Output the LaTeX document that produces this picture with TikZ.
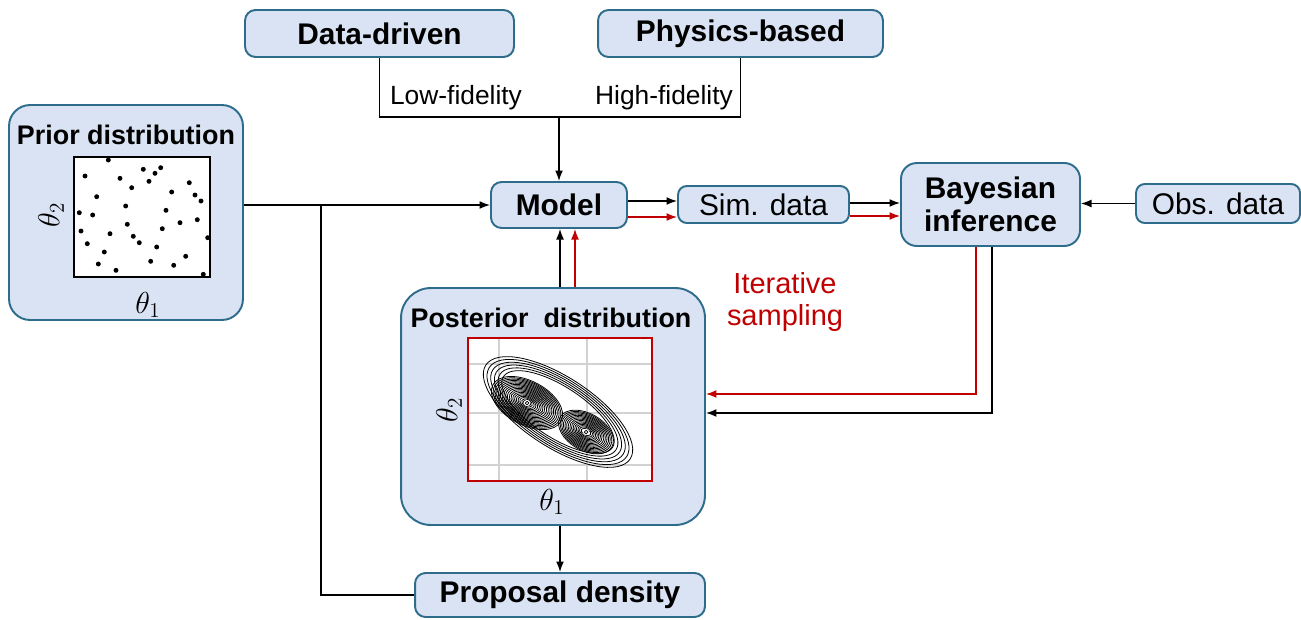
\documentclass[tikz,border=0pt]{standalone}
\usepackage{fontspec}
\setmainfont{Liberation Sans}
\usetikzlibrary{arrows.meta,calc}
\definecolor{boxc}{RGB}{218,227,243}
\definecolor{bordc}{RGB}{46,108,140}
\definecolor{redc}{RGB}{192,0,0}
\newcommand\bfsz{\fontsize{17}{20}\selectfont\bfseries}
\newcommand\rgsz{\fontsize{17}{20}\selectfont}
\newcommand\ttlsz{\fontsize{15.3}{18}\selectfont\bfseries}
\newcommand\lblsz{\fontsize{15}{18}\selectfont}
\newcommand\thsz{\fontsize{17}{20}\selectfont}
\begin{document}
\begin{tikzpicture}[x=0.02cm,y=-0.02cm,
  box/.style={draw=bordc,fill=boxc,line width=1.1pt,inner sep=0pt},
  ln/.style={line width=0.8pt,black},
  arr/.style={ln,-{Latex[length=6pt,width=4.5pt]}},
  rarr/.style={arr,draw=redc},
  cont/.style={line width=0.45pt,black}]
\useasboundingbox (0,0) rectangle (1301,619);

% top boxes
\node[box,rounded corners=6pt,minimum width=5.38cm,minimum height=0.94cm,font=\bfsz] (dd) at (379.5,33.5) {Data-driven};
\node[box,rounded corners=6pt,minimum width=5.7cm,minimum height=0.94cm,font=\bfsz] (pb) at (740.5,33.5) {Physics-based};
% row boxes
\node[box,rounded corners=6pt,minimum width=2.72cm,minimum height=0.92cm,font=\bfsz] (model) at (559,205) {Model};
\node[box,rounded corners=5pt,minimum width=3.42cm,minimum height=0.74cm,font=\rgsz] (sim) at (763.5,204.5) {Sim. data};
\node[box,rounded corners=9pt,minimum width=3.58cm,minimum height=1.66cm,font=\bfsz,align=center] (bayes) at (990.5,204.5) {Bayesian\\[-1pt]inference};
\node[box,rounded corners=5pt,minimum width=3.28cm,minimum height=0.78cm,font=\rgsz] (obs) at (1218,203.5) {Obs. data};
\node[box,rounded corners=6pt,minimum width=5.8cm,minimum height=0.88cm,font=\bfsz] (prop) at (560,595) {Proposal density};

% prior box
\node[box,rounded corners=12pt,minimum width=4.68cm,minimum height=4.3cm] (prior) at (126,212.5) {};
\node[font=\ttlsz] (priortitle) at (126,135) {Prior distribution};
\node[draw,fill=white,line width=0.9pt,minimum width=2.72cm,minimum height=2.4cm,inner sep=0pt] (priorplot) at (142,217) {};
\node[rotate=90,font=\thsz] (pth2) at (51,215) {$\theta_2$};
\node[font=\thsz] (pth1) at (148,305) {$\theta_1$};
\foreach \px/\py in {108.3/160,85/176,143.3/169.3,155/173.3,160.7/167.7,120/178.3,149/181.3,131.7/187.7,189.3/182.7,96.7/196.7,171.7/192,195/195,201/201,125.7/206,166/210.3,79.3/212.7,92.7/215,197.3/219.7,127.3/224.3,180/222.7,81/231,162.3/228.7,110/233.7,133.3/236.3,139.3/242.7,207.7/237.7,87.3/243.7,156.7/247,104.3/252,185.7/256.3,150.7/261.3,98.3/264,173.7/265.3,116/270.3,203.3/274.3}
  \fill (\px,\py) circle[radius=1.4pt];

% posterior box
\node[box,rounded corners=17pt,minimum width=6.08cm,minimum height=4.74cm] (post) at (553,406.5) {};
\node[font=\ttlsz] (posttitle) at (551,318) {Posterior~ distribution};
\fill[white] (468,338) rectangle (652,481);
\begin{scope}
  \clip (468,338) rectangle (652,481);
  \draw[gray!35,line width=0.9pt] (499,338) -- (499,481) (587,338) -- (587,481)
     (468,364) -- (652,364) (468,413) -- (652,413) (468,465) -- (652,465);
  \foreach \k [evaluate=\k as \a using 49-\k*2.4, evaluate=\k as \b using 20-\k*1.1] in {0,...,5}
    \draw[cont,rotate around={-33:(558,412)}] (558,412) ellipse[x radius=\a pt,y radius=\b pt];
  \foreach \k [evaluate=\k as \a using 22-\k*1.1, evaluate=\k as \b using 12.5-\k*0.62] in {0,...,18}
    \draw[cont,rotate around={-28:(527,403)}] (527,403) ellipse[x radius=\a pt,y radius=\b pt];
  \foreach \k [evaluate=\k as \a using 17-\k*1.0, evaluate=\k as \b using 10.5-\k*0.62] in {0,...,14}
    \draw[cont,rotate around={-30:(586,432)}] (586,432) ellipse[x radius=\a pt,y radius=\b pt];
  \fill[white] (527,403) circle[radius=1.8pt];
  \draw[line width=0.4pt] (527,403) circle[radius=1pt];
  \fill[white] (586,432) circle[radius=1.8pt];
  \draw[line width=0.4pt] (586,432) circle[radius=1pt];
\end{scope}
\node[draw=redc,line width=1.1pt,minimum width=3.68cm,minimum height=2.86cm,inner sep=0pt] (postplot) at (560,409.5) {};
\node[rotate=90,font=\thsz] (qth2) at (449,410) {$\theta_2$};
\node[font=\thsz] (qth1) at (552,502) {$\theta_1$};

% iterative sampling
\node[text=redc,font=\fontsize{16.5}{18.5}\selectfont,align=center] (iter) at (785,302) {Iterative\\sampling};

% helper coordinates
\coordinate (jn) at (559,117);
\coordinate (ylf) at (0,117);
\coordinate (br) at (321,205);
\coordinate (yb1) at (0,201);
\coordinate (yr1) at (0,217);
\coordinate (yb2) at (0,203);
\coordinate (yr2) at (0,216);
\coordinate (xb) at (560,0);
\coordinate (xr) at (575,0);
\coordinate (xbr) at (976,0);
\coordinate (xbb) at (992,0);
\coordinate (yr3) at (0,394);
\coordinate (yb3) at (0,413);

% fidelity join
\draw[ln] (dd.south) -- (dd.south |- ylf) -- (pb.south |- ylf) -- (pb.south);
\node[font=\lblsz] (lf) at (456,98) {Low-fidelity};
\node[font=\lblsz] (hf) at (664,98) {High-fidelity};
\draw[arr] (jn) -- (model.north);

% prior -> model, proposal branch
\draw[arr] (prior.east |- model.west) -- (model.west);
\draw[ln] (br) |- (prop.west);

% model -> sim -> bayes
\draw[arr] (model.east |- yb1) -- (sim.west |- yb1);
\draw[rarr] (model.east |- yr1) -- (sim.west |- yr1);
\draw[arr] (sim.east |- yb2) -- (bayes.west |- yb2);
\draw[rarr] (sim.east |- yr2) -- (bayes.west |- yr2);
\draw[arr] (obs.west) -- (bayes.east |- obs.west);

% posterior -> model
\draw[arr] (post.north -| xb) -- (model.south -| xb);
\draw[rarr] (post.north -| xr) -- (model.south -| xr);

% bayes -> posterior
\draw[rarr] (bayes.south -| xbr) |- (post.east |- yr3);
\draw[arr] (bayes.south -| xbb) |- (post.east |- yb3);

% posterior -> proposal
\draw[arr] (post.south -| prop.north) -- (prop.north);
\end{tikzpicture}
\end{document}
